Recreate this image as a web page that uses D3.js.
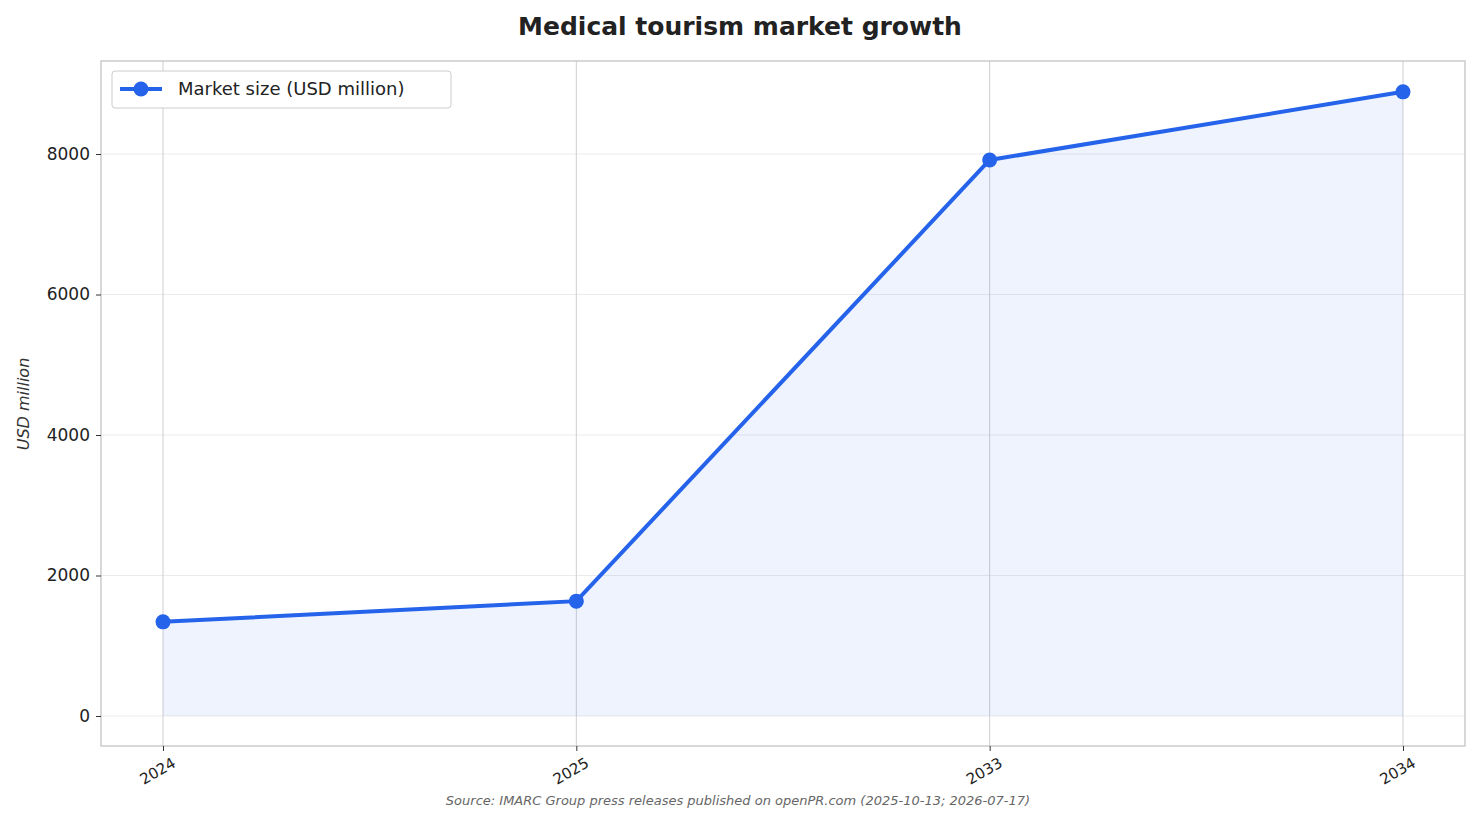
<!DOCTYPE html>
<html><head><meta charset="utf-8">
<script src="https://cdn.jsdelivr.net/npm/d3@7"></script>
<style>body{margin:0;background:#fff;font-family:"DejaVu Sans",sans-serif}</style>
</head><body><svg id="c" width="1480" height="824"></svg>
<script>
const categories=["2024","2025","2033","2034"];
const values=[1340,1635,7915,8885];
const yTicks=[0,2000,4000,6000,8000];
const seriesName="Market size (USD million)";
const svg=d3.select("#c");
const L=101,R=1465,T=61,B=746;
const x=d3.scalePoint().domain(categories).range([L,R]).padding(0.15);
const y=d3.scaleLinear().domain([-427,9324]).range([B,T]);
const col="#2563eb";
// grid
svg.append("g").selectAll("line").data(yTicks).join("line")
 .attr("x1",L).attr("x2",R).attr("y1",d=>y(d)).attr("y2",d=>y(d)).attr("stroke","#ebebeb");
svg.append("g").selectAll("line").data(categories).join("line")
 .attr("x1",d=>x(d)).attr("x2",d=>x(d)).attr("y1",T).attr("y2",B).attr("stroke","#cfcfd4");
const data=categories.map((c,i)=>({c,v:values[i]}));
svg.append("path").datum(data).attr("fill",col).attr("fill-opacity",0.08)
 .attr("d",d3.area().x(d=>x(d.c)).y0(y(0)).y1(d=>y(d.v)));
svg.append("path").datum(data).attr("fill","none").attr("stroke",col).attr("stroke-width",4)
 .attr("d",d3.line().x(d=>x(d.c)).y(d=>y(d.v)));
svg.append("g").selectAll("circle").data(data).join("circle")
 .attr("cx",d=>x(d.c)).attr("cy",d=>y(d.v)).attr("r",7.5).attr("fill",col);
svg.append("rect").attr("x",L).attr("y",T).attr("width",R-L).attr("height",B-T)
 .attr("fill","none").attr("stroke","#c4c4c4").attr("stroke-width",1.3);
// axes
const ya=svg.append("g").attr("transform",`translate(${L},0)`)
 .call(d3.axisLeft(y).tickValues(yTicks).tickSize(5).tickPadding(6).tickFormat(d3.format("d")));
ya.select(".domain").remove();
ya.selectAll("line").attr("stroke","#333");
ya.selectAll("text").attr("font-size",17).attr("fill","#222").attr("font-family","DejaVu Sans");
const xa=svg.append("g").attr("transform",`translate(0,${B})`)
 .call(d3.axisBottom(x).tickSize(5));
xa.select(".domain").remove();
xa.selectAll("line").attr("stroke","#333");
xa.selectAll("text").attr("font-size",15).attr("fill","#222").attr("font-family","DejaVu Sans")
 .attr("text-anchor","end").attr("transform","translate(4,4) rotate(-30)").attr("dy","0.7em");
svg.append("text").attr("x",740).attr("y",35).attr("text-anchor","middle")
 .attr("font-size",25).attr("font-weight","bold").attr("fill","#222").text("Medical tourism market growth");
svg.append("text").attr("transform","translate(29,404) rotate(-90)").attr("text-anchor","middle")
 .attr("font-size",16).attr("font-style","italic").attr("fill","#333").text("USD million");
svg.append("text").attr("x",738).attr("y",805).attr("text-anchor","middle")
 .attr("font-size",13).attr("font-style","italic").attr("fill","#666")
 .text("Source: IMARC Group press releases published on openPR.com (2025-10-13; 2026-07-17)");
const lg=svg.append("g");
lg.append("rect").attr("x",112).attr("y",71).attr("width",339).attr("height",37).attr("rx",3)
 .attr("fill","#fff").attr("stroke","#ccc");
lg.append("line").attr("x1",120).attr("x2",162).attr("y1",89).attr("y2",89).attr("stroke",col).attr("stroke-width",4);
lg.append("circle").attr("cx",141).attr("cy",89).attr("r",7.5).attr("fill",col);
lg.append("text").attr("x",178).attr("y",95).attr("font-size",18).attr("fill","#222").text(seriesName);
</script></body></html>
